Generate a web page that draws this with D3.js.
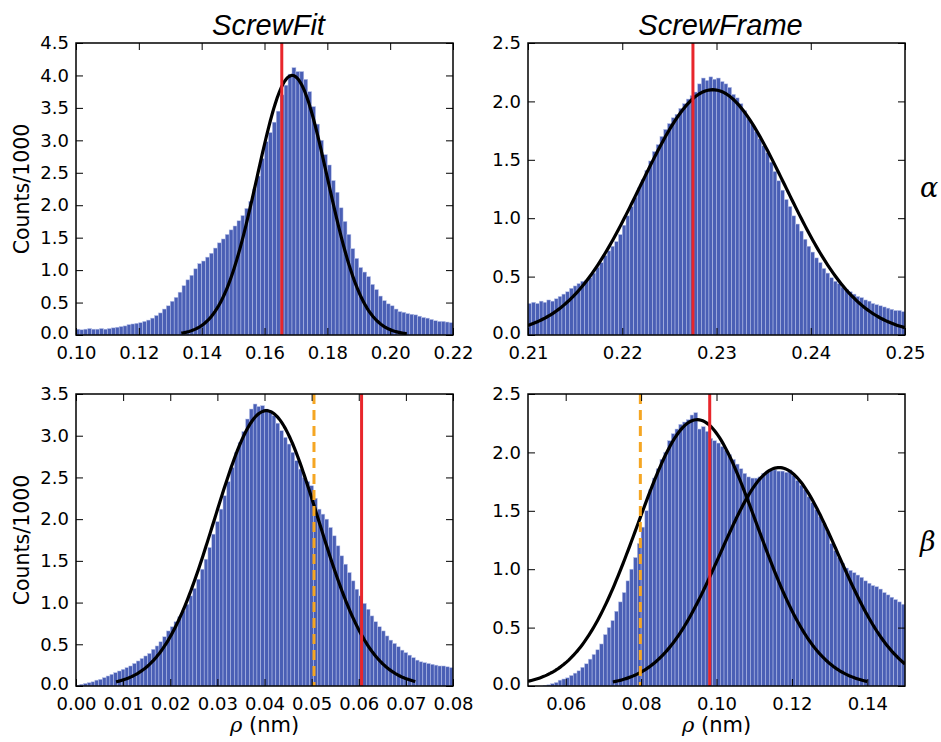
<!DOCTYPE html>
<html>
<head>
<meta charset="utf-8">
<script src="https://cdn.jsdelivr.net/npm/d3@7"></script>
<style>
  body { margin: 0; background: #fff; }
  svg { display: block; }
  .tick text { font-family: "DejaVu Sans", sans-serif; font-size: 18px; fill: #000; }
  .tick line { stroke: #000; stroke-width: 1; }
</style>
</head>
<body>
<svg id="chart" width="941" height="742"></svg>
<script>
// column titles and row symbols
var columnTitles = ["ScrewFit", "ScrewFrame"];
var rowSymbols = ["α", "β"];

// histogram heights (counts/1000), equal bins from start with given step
var fitAlphaStart = 0.100, fitAlphaStep = 0.00125;
var fitAlphaCounts = [
  0.09,0.08,0.09,0.10,0.09,0.09,0.10,0.09,
  0.10,0.11,0.12,0.13,0.14,0.16,0.17,0.18,
  0.19,0.21,0.23,0.26,0.30,0.34,0.40,0.45,
  0.52,0.58,0.66,0.76,0.85,0.92,1.02,1.10,
  1.14,1.20,1.26,1.34,1.42,1.48,1.55,1.62,
  1.68,1.76,1.84,1.95,2.06,2.25,2.45,2.72,
  2.98,3.12,3.28,3.45,3.70,3.85,4.02,4.12,
  4.06,4.06,3.94,3.75,3.52,3.25,3.00,2.78,
  2.62,2.38,2.20,1.96,1.75,1.55,1.33,1.18,
  1.04,0.97,0.90,0.78,0.70,0.60,0.53,0.48,
  0.45,0.40,0.36,0.35,0.33,0.32,0.31,0.29,
  0.27,0.26,0.24,0.22,0.21,0.21,0.20,0.19
];

var frameAlphaStart = 0.210, frameAlphaStep = 0.0004;
var frameAlphaCounts = [
  0.27,0.28,0.27,0.29,0.28,0.30,0.29,0.31,0.33,0.35,
  0.37,0.40,0.42,0.44,0.46,0.47,0.49,0.53,0.58,0.62,
  0.68,0.72,0.76,0.80,0.86,0.94,1.02,1.10,1.18,1.26,
  1.33,1.41,1.49,1.57,1.63,1.70,1.76,1.81,1.86,1.89,
  1.94,1.98,2.02,2.05,2.08,2.15,2.20,2.18,2.21,2.19,
  2.20,2.17,2.15,2.12,2.06,2.03,1.98,1.92,1.85,1.80,
  1.74,1.68,1.62,1.56,1.48,1.40,1.32,1.24,1.16,1.10,
  1.02,0.95,0.89,0.82,0.76,0.71,0.66,0.62,0.57,0.53,
  0.49,0.46,0.44,0.41,0.39,0.37,0.35,0.33,0.32,0.30,
  0.29,0.27,0.26,0.25,0.24,0.23,0.22,0.21,0.21,0.20
];

var fitBetaStart = 0.000, fitBetaStep = 0.0008;
var fitBetaCounts = [
  0.01,0.02,0.03,0.04,0.05,0.07,0.08,0.10,0.12,0.14,
  0.16,0.18,0.20,0.22,0.24,0.27,0.30,0.33,0.36,0.39,
  0.44,0.48,0.53,0.59,0.66,0.71,0.77,0.83,0.90,0.98,
  1.08,1.17,1.28,1.40,1.52,1.66,1.82,1.97,2.12,2.28,
  2.45,2.62,2.80,2.92,3.05,3.20,3.32,3.38,3.35,3.36,
  3.32,3.30,3.24,3.15,3.06,2.98,2.90,2.80,2.70,2.60,
  2.50,2.45,2.40,2.25,2.12,2.06,2.00,1.90,1.80,1.68,
  1.56,1.46,1.36,1.26,1.16,1.08,0.99,0.92,0.84,0.77,
  0.71,0.66,0.60,0.55,0.51,0.47,0.43,0.40,0.37,0.34,
  0.31,0.29,0.28,0.27,0.26,0.25,0.24,0.24,0.23,0.22
];

var frameBetaStart = 0.050, frameBetaStep = 0.001;
var frameBetaCounts = [
  0.00,0.00,0.00,0.00,0.005,0.01,0.02,0.03,0.05,0.06,
  0.07,0.09,0.11,0.13,0.16,0.19,0.23,0.27,0.31,0.36,
  0.44,0.50,0.56,0.64,0.72,0.80,0.90,1.00,1.10,1.22,
  1.36,1.50,1.68,1.78,1.86,1.94,2.00,2.10,2.16,2.20,
  2.24,2.26,2.28,2.32,2.34,2.20,2.22,2.18,2.12,2.10,
  2.08,2.05,2.02,1.98,1.94,1.90,1.86,1.82,1.79,1.78,
  1.78,1.79,1.82,1.84,1.85,1.85,1.84,1.84,1.83,1.85,
  1.80,1.76,1.72,1.68,1.62,1.57,1.51,1.45,1.39,1.32,
  1.22,1.16,1.10,1.05,1.01,0.99,0.97,0.95,0.93,0.90,
  0.88,0.86,0.85,0.83,0.80,0.78,0.76,0.74,0.72,0.70
];

// gaussian fits: [mean, sigma, peak, from, to]
var fitAlphaGauss = [[0.1688, 0.0112, 4.0, 0.1335, 0.2053]];
var frameAlphaGauss = [[0.2296, 0.0077, 2.1, 0.210, 0.250]];
var fitBetaGauss = [[0.0404, 0.0110, 3.3, 0.0085, 0.0720]];
var frameBetaGauss = [[0.0949, 0.0158, 2.28, 0.050, 0.140], [0.1166, 0.0156, 1.87, 0.0725, 0.150]];

// reference lines
var redLines = [0.1655, 0.2275, 0.0606, 0.0982];
var orangeLines = [null, null, 0.0505, 0.0798];

// axes
var xDomains = [[0.10, 0.22], [0.21, 0.25], [0.00, 0.08], [0.05, 0.15]];
var yMaxes = [4.5, 2.5, 3.5, 2.5];
var xTicks = [
  [0.10, 0.12, 0.14, 0.16, 0.18, 0.20, 0.22],
  [0.21, 0.22, 0.23, 0.24, 0.25],
  [0.00, 0.01, 0.02, 0.03, 0.04, 0.05, 0.06, 0.07, 0.08],
  [0.06, 0.08, 0.10, 0.12, 0.14]
];
var yTicks = [
  [0.0, 0.5, 1.0, 1.5, 2.0, 2.5, 3.0, 3.5, 4.0, 4.5],
  [0.0, 0.5, 1.0, 1.5, 2.0, 2.5],
  [0.0, 0.5, 1.0, 1.5, 2.0, 2.5, 3.0, 3.5],
  [0.0, 0.5, 1.0, 1.5, 2.0, 2.5]
];

var hists = [
  {start: fitAlphaStart, step: fitAlphaStep, counts: fitAlphaCounts, gauss: fitAlphaGauss},
  {start: frameAlphaStart, step: frameAlphaStep, counts: frameAlphaCounts, gauss: frameAlphaGauss},
  {start: fitBetaStart, step: fitBetaStep, counts: fitBetaCounts, gauss: fitBetaGauss},
  {start: frameBetaStart, step: frameBetaStep, counts: frameBetaCounts, gauss: frameBetaGauss}
];

var panelW = 377, panelH = 292;
var lefts = [76, 528], tops = [43, 394];

var svg = d3.select("#chart");

hists.forEach(function(h, i) {
  var col = i % 2, row = Math.floor(i / 2);
  var g = svg.append("g").attr("transform", "translate(" + lefts[col] + "," + tops[row] + ")");

  var x = d3.scaleLinear().domain(xDomains[i]).range([0, panelW]);
  var y = d3.scaleLinear().domain([0, yMaxes[i]]).range([panelH, 0]);

  var clipId = "clip" + i;
  g.append("clipPath").attr("id", clipId)
    .append("rect").attr("width", panelW).attr("height", panelH);

  var plot = g.append("g").attr("clip-path", "url(#" + clipId + ")");

  // bars
  plot.selectAll("rect.bar")
    .data(h.counts)
    .enter().append("rect")
    .attr("class", "bar")
    .attr("x", function(d, k) { return x(h.start + k * h.step); })
    .attr("width", function(d, k) { return x(h.start + (k + 1) * h.step) - x(h.start + k * h.step); })
    .attr("y", function(d) { return y(d); })
    .attr("height", function(d) { return panelH - y(d); })
    .attr("fill", "#4a5fb5")
    .attr("stroke", "#b9c3ea")
    .attr("stroke-width", 0.5);

  // gaussian fits
  var line = d3.line()
    .x(function(p) { return x(p[0]); })
    .y(function(p) { return y(p[1]); });
  h.gauss.forEach(function(gs) {
    var mu = gs[0], sd = gs[1], pk = gs[2];
    var pts = d3.range(0, 201).map(function(k) {
      var xv = gs[3] + (gs[4] - gs[3]) * k / 200;
      return [xv, pk * Math.exp(-0.5 * Math.pow((xv - mu) / sd, 2))];
    });
    plot.append("path")
      .datum(pts)
      .attr("d", line)
      .attr("fill", "none")
      .attr("stroke", "#000")
      .attr("stroke-width", 3.2);
  });

  // vertical markers
  if (orangeLines[i] != null) {
    plot.append("line")
      .attr("x1", x(orangeLines[i])).attr("x2", x(orangeLines[i]))
      .attr("y1", 0).attr("y2", panelH)
      .attr("stroke", "#f5a623")
      .attr("stroke-width", 3)
      .attr("stroke-dasharray", "10,6");
  }
  plot.append("line")
    .attr("x1", x(redLines[i])).attr("x2", x(redLines[i]))
    .attr("y1", 0).attr("y2", panelH)
    .attr("stroke", "#e8262b")
    .attr("stroke-width", 3);

  // axes with inward ticks
  var fmtX = d3.format(".2f"), fmtY = d3.format(".1f");
  g.append("g").attr("transform", "translate(0," + panelH + ")")
    .call(d3.axisBottom(x).tickValues(xTicks[i]).tickFormat(fmtX).tickSize(-7).tickPadding(11));
  g.append("g")
    .call(d3.axisTop(x).tickValues(xTicks[i]).tickFormat("").tickSize(-7));
  var ay = g.append("g")
    .call(d3.axisLeft(y).tickValues(yTicks[i]).tickFormat(fmtY).tickSize(-7).tickPadding(7));
  // lift the zero label a little so it clears the x labels
  ay.selectAll(".tick text").attr("dy", function(d) { return d === 0 ? "0.2em" : "0.32em"; });
  g.append("g").attr("transform", "translate(" + panelW + ",0)")
    .call(d3.axisRight(y).tickValues(yTicks[i]).tickFormat("").tickSize(-7));
  g.selectAll(".domain").remove();

  g.append("rect")
    .attr("width", panelW).attr("height", panelH)
    .attr("fill", "none").attr("stroke", "#000").attr("stroke-width", 1.5);

  if (row === 0) {
    svg.append("text")
      .attr("x", lefts[col] + panelW / 2 + 4)
      .attr("y", 35)
      .attr("text-anchor", "middle")
      .attr("font-family", "Liberation Sans, Arial, sans-serif")
      .attr("font-style", "italic")
      .attr("font-size", 29)
      .text(columnTitles[col]);
  }
  if (col === 0) {
    svg.append("text")
      .attr("transform", "translate(29," + (tops[row] + panelH / 2) + ") rotate(-90)")
      .attr("text-anchor", "middle")
      .attr("font-family", "DejaVu Sans, sans-serif")
      .attr("font-size", 20.5)
      .text("Counts/1000");
  } else {
    svg.append("text")
      .attr("x", 920)
      .attr("y", tops[row] + panelH / 2 + (row === 0 ? 8 : 11))
      .attr("font-family", "DejaVu Serif, serif")
      .attr("font-style", "italic")
      .attr("font-size", 27)
      .text(rowSymbols[row]);
  }
  if (row === 1) {
    var t = svg.append("text")
      .attr("x", lefts[col] + panelW / 2)
      .attr("y", 732)
      .attr("text-anchor", "middle")
      .attr("font-family", "DejaVu Sans, sans-serif")
      .attr("font-size", 21);
    t.append("tspan").attr("font-family", "DejaVu Serif, serif").attr("font-style", "italic").text("ρ");
    t.append("tspan").text(" (nm)");
  }
});
</script>
</body>
</html>
